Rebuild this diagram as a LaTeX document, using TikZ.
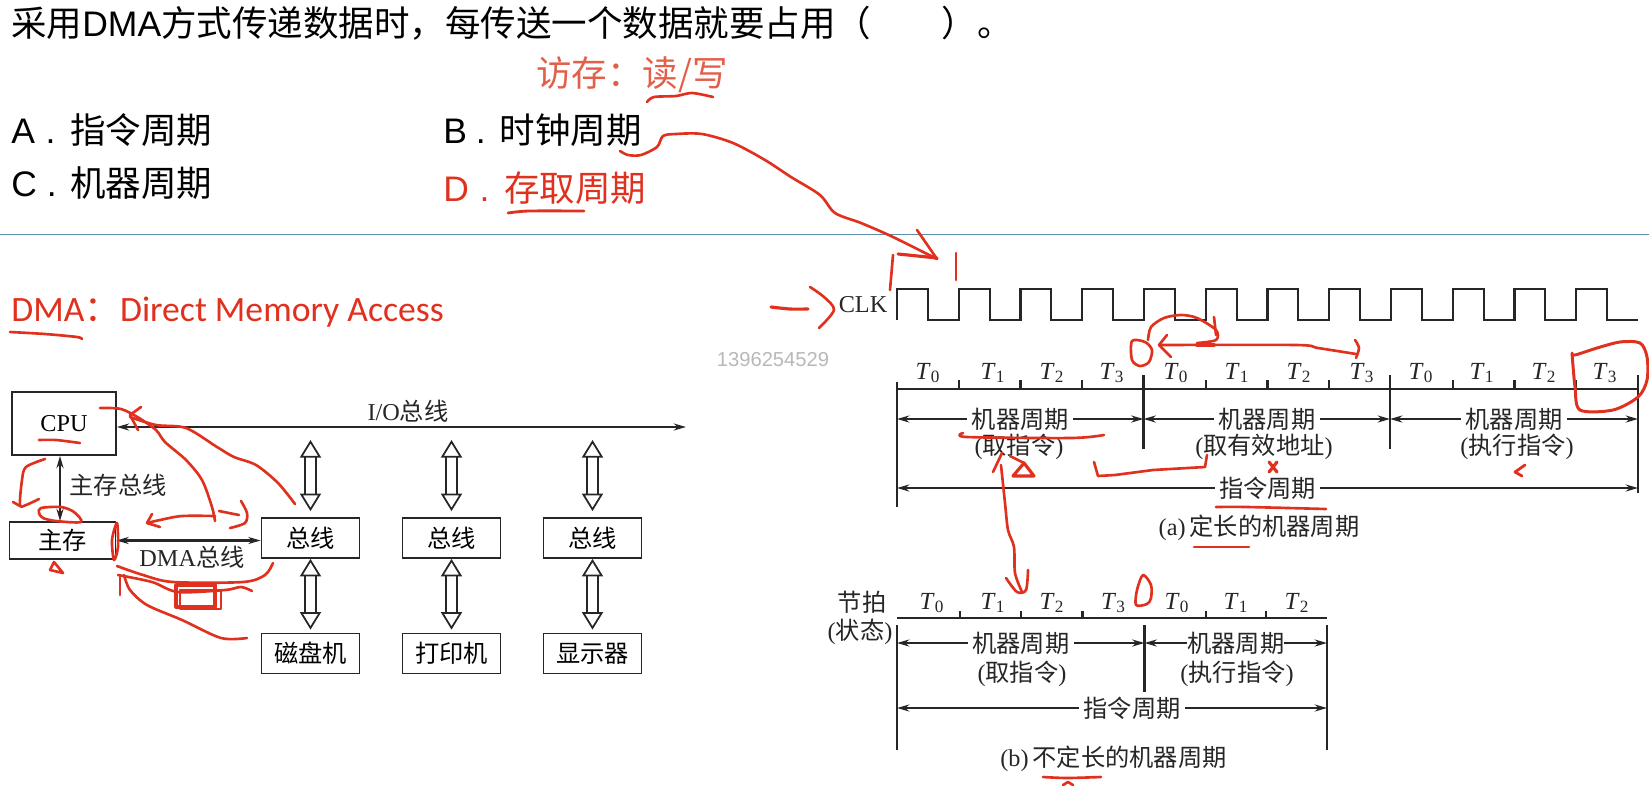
\documentclass[tikz,border=0pt]{standalone}
\usepackage{fontspec}
\usepackage{tikz}
\usetikzlibrary{arrows.meta, positioning}
\setmainfont{Liberation Serif}
\newfontfamily\cjk{Noto Sans CJK SC}
\newfontfamily\latinhead{Liberation Sans}
\newfontfamily\calib{Carlito}
\definecolor{inkred}{HTML}{E0301E}
\definecolor{notered}{HTML}{E2604A}
\definecolor{rulecolor}{HTML}{5F8FA8}
\definecolor{linegray}{HTML}{262626}
\newlength{\unitpx}
\setlength{\unitpx}{0.02cm}
\newcommand{\fig}[1]{{\cjk #1}}
\newcommand{\optmark}[3]{{\latinhead #1\hspace{#2em}.\hspace{#3em}}}
\tikzset{
    question/.style={anchor=west, inner sep=0pt, text=black, font=\fontsize{20.2pt}{21pt}\selectfont\cjk},
    busbox/.style={draw=linegray, line width=1pt, minimum width=98\unitpx, minimum height=40\unitpx, inner sep=0pt, font=\fontsize{13.8pt}{14pt}\selectfont},
    figlabel/.style={inner sep=1.5pt, text=linegray, font=\fontsize{13.8pt}{14pt}\selectfont},
    cyclelabel/.style={figlabel, fill=white, inner sep=2.5pt},
    beat/.style={inner sep=0pt, text=linegray, font=\fontsize{14pt}{15pt}\selectfont},
    wire/.style={draw=linegray, line width=1.2pt},
    arrow/.style={wire, <->, >={Stealth[length=7pt,width=4pt]}},
    hollow/.style={draw=linegray, line width=1pt, double=white, double distance=5pt,
        {Triangle[open,fill=white,length=10pt,width=12pt]}-{Triangle[open,fill=white,length=10pt,width=12pt]}},
    ink/.style={draw=inkred, line width=1.5pt, line cap=round, line join=round}
}
\begin{document}
\begin{tikzpicture}[x=0.02cm, y=-0.02cm]
\useasboundingbox (0,0) rectangle (1649,785);

% Question text
\node[question] (stem) at (11,23) {采用{\latinhead DMA}方式传递数据时，每传送一个数据就要占用（\hspace{2em}）。};
\node[question, text=notered] (memnote) at (536,75) {访存：读/写};
\node[question] (optA) at (11,130) {\optmark{A}{0.3}{0.42}指令周期};
\node[question] (optB) at (443,130) {\optmark{B}{0.25}{0.4}时钟周期};
\node[question] (optC) at (11,183) {\optmark{C}{0.28}{0.38}机器周期};
\node[question, text=inkred] (optD) at (443,188) {\optmark{D}{0.3}{0.42}存取周期};
\coordinate (ruleL) at (0,234.5);
\coordinate (ruleR) at (1649,234.5);
\draw[rulecolor, line width=1pt] (ruleL) -- (ruleR);
\node[question, text=inkred, font=\fontsize{20.3pt}{21pt}\selectfont\calib] (dmanote) at (11,312) {DMA{\cjk ：}Direct Memory Access};
\node[inner sep=0pt, text=black!28, font=\fontsize{11.5pt}{12pt}\selectfont\latinhead] (stamp) at (773,360) {1396254529};

% Bus structure
\node[busbox, minimum width=104\unitpx, minimum height=63\unitpx] (cpu) at (64,423.5) {\raisebox{-1.5pt}{CPU}};
\node[busbox, minimum width=106\unitpx, minimum height=37\unitpx] (mem) at (62.5,540.5) {\fig{主存}};
\foreach \n/\x/\bus/\dev in {1/310.5/总线/磁盘机, 2/451.5/总线/打印机, 3/592.5/总线/显示器} {
    \node[busbox] (bus\n) at (\x,538) {\fig{\bus}};
    \node[busbox] (dev\n) at (\x,653.5) {\fig{\dev}};
    \coordinate (tap\n) at (\x,440);
    \draw[hollow, shorten >=6\unitpx] (tap\n) -- (bus\n.north);
    \draw[hollow, shorten >=3\unitpx] (bus\n.south) -- (dev\n.north);
}
\coordinate (ioend) at (686,427);
\draw[arrow] (cpu.east |- ioend) -- (ioend);
\node[figlabel] (iolbl) at (408,411) {I/O\fig{总线}};
\draw[arrow] (cpu.south -| 60,0) -- (mem.north -| 60,0);
\node[figlabel] (memlbl) at (118,485) {\fig{主存总线}};
\draw[arrow] (mem.east) -- (bus1.west |- mem.east);
\node[figlabel] (dmalbl) at (192,557) {DMA\fig{总线}};

% CLK waveform
\node[figlabel] (clk) at (863,305) {CLK};
\coordinate (wave) at (897,320);
\draw[wire] (wave) \foreach \i in {1,...,12} { -- ++(0,-31) -- ++(30.9,0) -- ++(0,31) -- ++(30.85,0) };

% (a) fixed length cycles
\coordinate (a0) at (897,389);
\coordinate (a1) at (1143.5,389);
\coordinate (a2) at (1390,389);
\coordinate (a3) at (1638,389);
\draw[wire] (a0) -- (a3);
\foreach \i in {1,2,3,5,6,7,9,10,11} {
    \draw[wire] ([xshift={\i*61.75*\unitpx}]a0) -- ++(0,-9);
}
\draw[wire] ([yshift=7*\unitpx]a0) -- ++(0,125);
\draw[wire] ([yshift=14*\unitpx]a3) -- ++(0,118);
\draw[wire] ([yshift=14*\unitpx]a1) -- ++(0,74);
\draw[wire] ([yshift=14*\unitpx]a2) -- ++(0,74);
\foreach \x/\t in {928/0, 993/1, 1052/2, 1112/3, 1176/0, 1237/1, 1299/2, 1362/3, 1421/0, 1482/1, 1544/2, 1605/3} {
    \node[beat] at (\x,373) {\textit{T}\textsubscript{\t}};
}
\coordinate (a0m) at (897,419);
\coordinate (a1m) at (1143.5,419);
\coordinate (a2m) at (1390,419);
\coordinate (a3m) at (1638,419);
\draw[arrow] (a0m) -- node[cyclelabel] (amc1) {\fig{机器周期}} (a1m);
\draw[arrow] (a1m) -- node[cyclelabel] (amc2) {\fig{机器周期}} (a2m);
\draw[arrow] (a2m) -- node[cyclelabel] (amc3) {\fig{机器周期}} (a3m);
\node[figlabel] (afetch) at (1019,447) {(\fig{取指令})};
\node[figlabel] (aaddr) at (1264,447) {(\fig{取有效地址})};
\node[figlabel] (aexec) at (1517,447) {(\fig{执行指令})};
\coordinate (a0i) at (897,488);
\coordinate (a3i) at (1638,488);
\draw[arrow] (a0i) -- node[cyclelabel] (ainst) {\fig{指令周期}} (a3i);
\node[figlabel] (acap) at (1259,528) {(a)\,\fig{定长的机器周期}};

% (b) variable length cycles
\node[figlabel] (beatlbl) at (862,602) {\fig{节拍}};
\node[figlabel] (statelbl) at (860,632) {(\fig{状态})};
\coordinate (b0) at (897,618);
\coordinate (b1) at (1144.5,618);
\coordinate (b2) at (1327,618);
\draw[wire] (b0) -- (b2);
\foreach \x in {960,1021,1082.5,1206,1266} {
    \draw[wire] (\x,618) -- ++(0,-7);
}
\draw[wire] ([yshift=-7*\unitpx]b0) -- ++(0,125);
\draw[wire] ([yshift=-7*\unitpx]b2) -- ++(0,125);
\draw[wire] ([yshift=-7*\unitpx]b1) -- ++(0,71);
\foreach \x/\t in {932/0, 993/1, 1052/2, 1113.5/3, 1177/0, 1236/1, 1297/2} {
    \node[beat] at (\x,603) {\textit{T}\textsubscript{\t}};
}
\coordinate (b0m) at (897,643);
\coordinate (b1m) at (1144.5,643);
\coordinate (b2m) at (1327,643);
\draw[arrow] (b0m) -- node[cyclelabel] (bmc1) {\fig{机器周期}} (b1m);
\draw[arrow] (b1m) -- node[cyclelabel, inner sep=0pt] (bmc2) {\fig{机器周期}} (b2m);
\node[figlabel] (bfetch) at (1022,674) {(\fig{取指令})};
\node[figlabel] (bexec) at (1237,674) {(\fig{执行指令})};
\coordinate (b0i) at (897,708);
\coordinate (b2i) at (1327,708);
\draw[arrow] (b0i) -- node[cyclelabel, pos=0.547] (binst) {\fig{指令周期}} (b2i);
\node[figlabel] (bcap) at (1113.5,759) {(b)\,\fig{不定长的机器周期}};

% Handwritten marks, top
\draw[ink] plot[smooth] coordinates {(647,102) (654,97) (676,96) (692,93) (713,97)};
\draw[ink] plot[smooth] coordinates {(620,151) (628,155) (641,155) (657,147) (663,136) (676,134) (702,134) (733,143) (765,160) (791,177) (820,195) (835,213) (861,223) (893,237) (937,259)};
\draw[ink] plot[smooth] coordinates {(917,230) (926,243) (937,259)};
\draw[ink] (893,255) -- (890,290);
\draw[ink, line width=1.8pt] (898,254) -- (937,258);
\draw[ink] (956,253) -- (956,280);
\draw[ink, line width=1.8pt] plot[smooth] coordinates {(771,307) (790,309) (808,309)};
\draw[ink] plot[smooth] coordinates {(810,287) (824,297) (834,310) (819,328)};
\draw[ink, line width=1.6pt] plot[smooth] coordinates {(508,213) (529,211) (584,211)};
\draw[ink] plot[smooth] coordinates {(10,332) (45,334) (77,337) (82,339)};

% Handwritten marks, cycles
\draw[ink] plot[smooth cycle] coordinates {(1132,341) (1132,360) (1140,366) (1149,362) (1152,350) (1145,342)};
\draw[ink] plot[smooth] coordinates {(1148,340) (1151,327) (1164,318) (1181,315) (1197,318) (1216,330) (1216,340) (1197,343)};
\draw[ink] (1214,317) -- (1216,335);
\draw[ink] plot[smooth] coordinates {(1159,345) (1296,345) (1318,348) (1356,354)};
\draw[ink, line width=2.2pt] (1197,345) -- (1214,345);
\draw[ink] (1167,335) -- (1159,345) -- (1171,357);
\draw[ink] plot[smooth] coordinates {(1355,340) (1359,348) (1356,358)};
\draw[ink] plot[smooth] coordinates {(963,433) (967,437) (1071,438) (1104,435)};
\draw[ink] (993,472) -- (1002,453);
\draw[ink] plot[smooth] coordinates {(1001,465) (1005,503) (1008,530) (1014,547) (1015,573) (1022,592)};
\draw[ink] plot[smooth] coordinates {(1006,578) (1017,592) (1026,590) (1028,570)};
\draw[ink, line width=1.8pt] (1013,476) -- (1024,463) -- (1034,476) -- cycle;
\draw[ink] (1010,456) -- (1024,463);
\draw[ink] plot[sharp plot] coordinates {(1094,462) (1098,476) (1115,475) (1153,470) (1205,467) (1207,455)};
\draw[ink, line width=1.8pt] (1269,462) -- (1277,472) (1277,462) -- (1269,472);
\draw[ink, line width=1.6pt] (1525,465) -- (1515,472) -- (1522,476);
\draw[ink] plot[smooth] coordinates {(1216,507) (1247,507) (1326,509)};
\draw[ink] (1194,547) -- (1249,547);
\draw[ink] plot[smooth cycle] coordinates {(1136,605) (1137,590) (1143,575) (1151,585) (1151,598) (1147,604)};
\draw[ink] plot[smooth] coordinates {(1043,777) (1067,778) (1101,777)};
\draw[ink] (1063,785) -- (1068,782) -- (1073,785);
\draw[ink, line width=1.7pt] plot[smooth] coordinates {(1572,353) (1575,355) (1597,348) (1620,342) (1640,343) (1647,357) (1647,380) (1638,397) (1613,410) (1580,410) (1575,387) (1572,353)};

% Handwritten marks, bus structure
\draw[ink] plot[smooth] coordinates {(39,440) (56,440) (80,443)};
\draw[ink] plot[smooth] coordinates {(100,408) (121,409) (139,418) (156,430) (165,442) (186,460) (202,480) (212,507) (215,521)};
\draw[ink] plot[smooth] coordinates {(215,516) (182,516) (160,520) (147,523)};
\draw[ink] (152,514) -- (147,523) -- (160,527);
\draw[ink] (141,407) -- (130,415) -- (138,430);
\draw[ink] plot[smooth] coordinates {(130,417) (156,425) (186,428) (217,447) (234,457) (256,465) (278,483) (295,504)};
\draw[ink] (219,511) -- (239,515);
\draw[ink] plot[smooth] coordinates {(241,501) (247,513) (245,523) (230,528)};
\draw[ink] plot[smooth] coordinates {(45,459) (26,467) (22,480) (20,505) (26,505) (39,499)};
\draw[ink] (13,502) -- (20,506);
\draw[ink] plot[smooth cycle] coordinates {(39,513) (41,508) (61,507) (74,512) (81,522) (56,521) (43,518)};
\draw[ink] plot[smooth cycle] coordinates {(117,523) (112,540) (114,560) (118,547)};
\draw[ink] (54,562) -- (50,570) -- (63,573) -- cycle;
\draw[ink] plot[smooth] coordinates {(117,566) (143,575) (173,582) (243,582) (265,575) (273,563)};
\draw[ink] plot[smooth] coordinates {(118,575) (152,582) (178,592) (225,590) (241,587) (252,591)};
\draw[ink] (120,577) -- (120,595);
\draw[ink] plot[smooth] coordinates {(124,575) (130,590) (147,605) (182,620) (221,638) (247,638)};
\draw[ink, line width=1.8pt] (176,585) rectangle (215,607);
\draw[ink] (180,590) rectangle (221,609);

\end{tikzpicture}
\end{document}
